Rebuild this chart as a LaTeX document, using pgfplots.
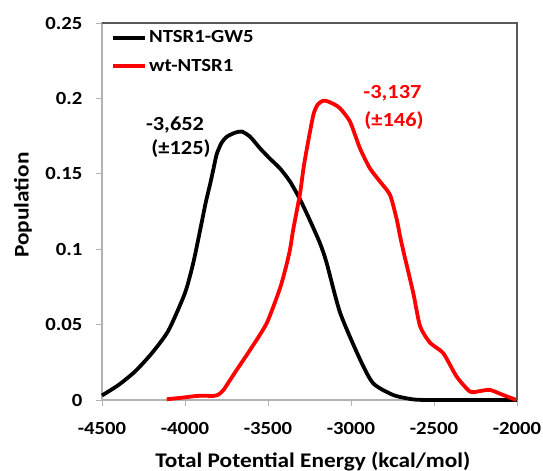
\documentclass[border=0pt]{standalone}
\usepackage{fontspec}
\setmainfont{Carlito}[FakeStretch=1.12]
\usepackage{pgfplots}
\pgfplotsset{compat=1.18}
\begin{document}
\begin{tikzpicture}
\begin{axis}[
  scale only axis, width=415bp, height=377bp,
  xmin=-4500, xmax=-2000, ymin=0, ymax=0.25,
  xtick={-4500,-4000,-3500,-3000,-2500,-2000},
  ytick={0,0.05,0.1,0.15,0.2,0.25},
  yticklabels={0,0.05,0.1,0.15,0.2,0.25},
  xticklabels={-4500,-4000,-3500,-3000,-2500,-2000},
  tick align=outside, tick pos=left,
  major tick length=6bp,
  tick style={draw=black!30, line width=0.9pt},
  axis line style={draw=black!30, line width=1.1pt},
  ticklabel style={font=\fontsize{18.5bp}{22bp}\selectfont\bfseries},
  yticklabel style={xshift=-10bp},
  xticklabel style={yshift=-13bp},
  xlabel={Total Potential Energy (kcal/mol)},
  ylabel={Population},
  label style={font=\fontsize{20.8bp}{24bp}\selectfont\bfseries},
  xlabel style={at={(rel axis cs:0.508,0)}, anchor=base, yshift=-67bp},
  ylabel style={at={(rel axis cs:0,0.517)}, anchor=center, yshift=79bp},
  legend style={draw=none, fill=none, at={(rel axis cs:0.022,0.985)}, anchor=north west,
    font=\fontsize{18.5bp}{22bp}\selectfont\bfseries, row sep=11bp,
    inner sep=0pt},
  legend cell align=left,
  legend image code/.code={\draw[#1] (0bp,0bp) -- (32bp,0bp);},
  clip=false,
]
\addplot[black, line width=3.8pt, smooth, tension=0.4] coordinates {
(-4500,0.003) (-4400,0.010) (-4300,0.019) (-4200,0.031) (-4100,0.046)
(-4000,0.071) (-3950,0.091) (-3910,0.112) (-3875,0.131) (-3849,0.143)
(-3829,0.153) (-3809,0.163) (-3780,0.1705) (-3749,0.1745) (-3700,0.1772)
(-3658,0.178) (-3608,0.1746) (-3548,0.1669) (-3488,0.160) (-3428,0.1536)
(-3367,0.1448) (-3307,0.133) (-3247,0.119) (-3187,0.104) (-3147,0.091)
(-3066,0.058) (-2946,0.027) (-2866,0.011) (-2745,0.0033) (-2625,0.0004)
(-2500,0) (-2000,0)
};
\addlegendentry{NTSR1-GW5}
\addplot[red, line width=3.8pt, smooth, tension=0.4] coordinates {
(-4110,0.0005) (-4020,0.0015) (-3930,0.0027) (-3880,0.0028) (-3830,0.0027)
(-3800,0.0035) (-3769,0.0065) (-3730,0.013) (-3689,0.0199) (-3608,0.0332)
(-3508,0.0509) (-3428,0.074) (-3390,0.089) (-3367,0.100) (-3348,0.113)
(-3307,0.137) (-3287,0.153) (-3267,0.166) (-3227,0.189) (-3200,0.196)
(-3167,0.1985) (-3140,0.198) (-3100,0.196) (-3066,0.1934) (-3006,0.1846)
(-2946,0.1669) (-2886,0.1536) (-2825,0.1448) (-2765,0.136) (-2725,0.120)
(-2705,0.109) (-2685,0.099) (-2625,0.071) (-2584,0.049) (-2524,0.038)
(-2444,0.031) (-2364,0.0156) (-2283,0.0056) (-2220,0.006) (-2163,0.0067)
(-2083,0.0033) (-2003,0)
};
\addlegendentry{wt-NTSR1}
\node[font=\fontsize{20bp}{24bp}\selectfont\bfseries, anchor=base, text=black]
  at (axis cs:-4060,0.179) {-3,652};
\node[font=\fontsize{20bp}{24bp}\selectfont\bfseries, anchor=base, text=black]
  at (axis cs:-4024,0.1625) {(±125)};
\node[font=\fontsize{20bp}{24bp}\selectfont\bfseries, anchor=base, text=red]
  at (axis cs:-2750,0.2001) {-3,137};
\node[font=\fontsize{20bp}{24bp}\selectfont\bfseries, anchor=base, text=red]
  at (axis cs:-2741,0.1812) {(±146)};
\draw[black!65, line width=1.2pt] (rel axis cs:0,1) -- (rel axis cs:1,1) -- (rel axis cs:1,0);
\end{axis}
\pgfresetboundingbox
\path[use as bounding box] (current axis.south west) ++(-102bp,-71bp) rectangle ++(543bp,471bp);
\end{tikzpicture}
\end{document}
